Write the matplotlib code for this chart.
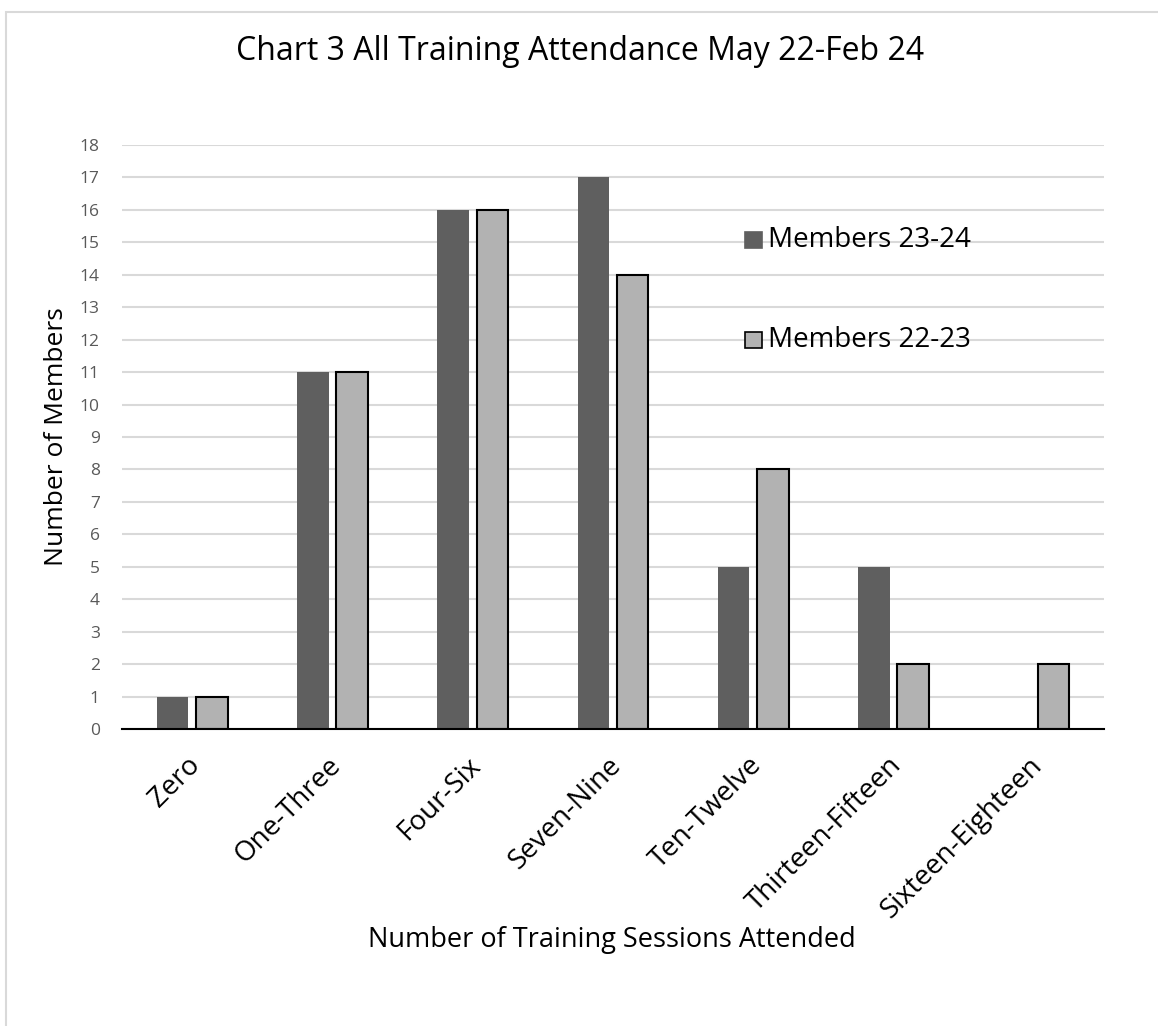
import numpy as np
import matplotlib.pyplot as plt
from matplotlib.patches import Rectangle

categories = ['Zero', 'One-Three', 'Four-Six', 'Seven-Nine', 'Ten-Twelve',
              'Thirteen-Fifteen', 'Sixteen-Eighteen']
members_23_24 = [1, 11, 16, 17, 5, 5, 0]
members_22_23 = [1, 11, 16, 14, 8, 2, 2]
series_labels = ['Members 23-24', 'Members 22-23']

plt.rcParams['font.family'] = ['Open Sans', 'DejaVu Sans']

dark = '#5f5f5f'
light = '#b2b2b2'

fig = plt.figure(figsize=(11.58, 10.26), dpi=100)
# chart border
fig.patches.append(Rectangle((6 / 1158, -0.01), 1.02, 1 - 12 / 1026 + 0.01,
                             transform=fig.transFigure, fill=False,
                             edgecolor='#d9d9d9', linewidth=1.5))

ax = fig.add_axes([122 / 1158, 1 - 729 / 1026, (1104 - 122) / 1158, (729 - 145) / 1026])
x = np.arange(len(categories))
w = 0.225
ax.bar(x - 0.14, members_23_24, w, color=dark, zorder=3)
ax.bar(x + 0.14, members_22_23, w, color=light, edgecolor='black', linewidth=1.5, zorder=3)

ax.set_xlim(-0.5, len(categories) - 0.5)
ax.set_ylim(0, 18)
ax.set_yticks(range(0, 19))
ax.yaxis.grid(True, color='#d9d9d9', linewidth=1.5, zorder=0)
ax.set_axisbelow(True)
for s in ['top', 'right', 'left']:
    ax.spines[s].set_visible(False)
ax.spines['bottom'].set_linewidth(1.5)
ax.spines['bottom'].set_zorder(4)
ax.tick_params(axis='both', length=0, labelsize=12.5, colors='#595959')
ax.tick_params(axis='y', pad=16)
ax.set_xticks(x - 0.04)
ax.set_xticklabels(categories, rotation=45, ha='right', va='top',
                   rotation_mode='anchor', fontsize=20, color='black')
for lab in ax.get_xticklabels():
    lab.set_y(-0.03)

ax.set_ylabel('Number of Members', fontsize=19, labelpad=8, color='black')
fig.text(612 / 1158, 1 - 940 / 1026, 'Number of Training Sessions Attended',
         fontsize=19.5, ha='center', va='center')
fig.text(580 / 1158, 1 - 52 / 1026, 'Chart 3 All Training Attendance May 22-Feb 24',
         fontsize=23, ha='center', va='center')

# legend
for i, (lbl, col) in enumerate(zip(series_labels, [dark, light])):
    yy = 1 - (240 + 100 * i) / 1026
    fig.patches.append(Rectangle((745 / 1158, yy - 8 / 1026), 17 / 1158, 16 / 1026,
                                 transform=fig.transFigure, facecolor=col,
                                 edgecolor='black' if i == 1 else col, linewidth=1.2))
    fig.text(768 / 1158, yy, lbl, fontsize=20, ha='left', va='center')

fig.savefig('out.png', dpi=100)
